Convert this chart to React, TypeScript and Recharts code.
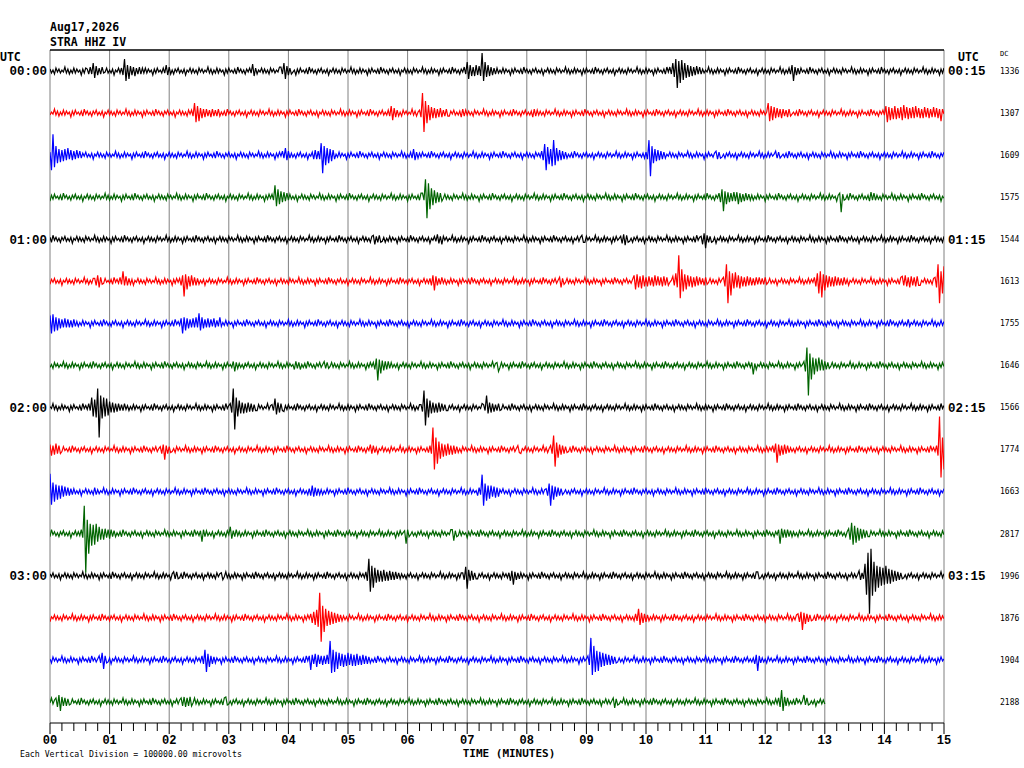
import { LineChart, Line, XAxis, YAxis, ReferenceLine } from 'recharts'

// helicorder: 16 rows of 15 minutes, deflections in pixels of the original plot
const minuteLabels = ['00', '01', '02', '03', '04', '05', '06', '07', '08', '09', '10', '11', '12', '13', '14', '15']
const rowStartLabels = ['00:00', '01:00', '02:00', '03:00']
const rowEndLabels = ['00:15', '01:15', '02:15', '03:15']
const dcValues = ['1336', '1307', '1609', '1575', '1544', '1613', '1755', '1646', '1566', '1774', '1663', '2817', '1996', '1876', '1904', '2188']
const traceEnds = [15, 15, 15, 15, 15, 15, 15, 15, 15, 15, 15, 15, 15, 15, 15, 13]

// background noise band, read from a quiet stretch
const noiseSamples = [
  2, -2, 1, -3, 3, -1, 2, -2, 1, -1, 4, -2, 2, -3, 1, -2, 3, -2, 2, -1, 1, -4, 2, -2,
  3, -1, 1, -2, 2, -3, 4, -1, 2, -2, 1, -3, 2, -1, 3, -2, 1, -2, 2, -4, 1, -1, 3, -2,
]

// [start minute, deflections every 0.025 min]
const events00: [number, string][] = [
  [0.62, '2 -3 4 -3 8 -7 5 -4 3 -3 4 -2'],
  [1.2, '3 -4 12 -10 6 -8 5 -4 4 -5 3 -3 4 -3 3 -2'],
  [1.9, '3 -2 6 -4 4 -3'],
  [3.35, '3 -2 7 -5 3 -3'],
  [3.87, '4 -3 8 -8 5 -4 3 -3'],
  [6.95, '4 -3 9 -8 6 -5 4 -5 6 -4 5 -5 18 -10 9 -6 6 -5 4 -4 3 -3 3 -2'],
  [10.4, '4 -3 8 -6 12 -17 10 -12 11 -9 8 -7 6 -6 5 -5 4 -4 5 -3 4 -3'],
  [12.4, '3 -3 6 -10 4 -4 3 -3'],
]
const events01: [number, string][] = [
  [2.38, '3 -3 10 -9 7 -8 5 -5 4 -4 4 -3 3 -4 4 -3 3 -3 4 -3'],
  [5.68, '3 -3 7 -7 5 -4 3 -3'],
  [6.2, '3 -4 20 -19 12 -10 8 -7 6 -5 5 -5 4 -4 5 -4 3 -3 4 -3'],
  [6.93, '4 -3'],
  [8.13, '4 -3'],
  [12.05, '10 -8 7 -7 6 -5 5 -4 4 -5 4 -3 3 -4 4 -3'],
  [14.03, '7 -9 6 -7 5 -6 7 -6 5 -5 6 -7 8 -5 6 -6 5 -5 6 -5 7 -4 5 -5 4 -5 6 -4 5 -5 4 -4 6 -4 5 -5 4 -8'],
]
const events02: [number, string][] = [
  [0.0, '3 -15 21 -12 9 -8 6 -7 5 -6 6 -5 7 -4 5 -5 4 -4 5 -3 4 -3'],
  [3.9, '4 -3 7 -5 4 -3'],
  [4.4, '3 -4 5 -4 4 -4 12 -18 9 -10 7 -8 6 -6 5 -4'],
  [6.05, '3 -3 6 -5 3 -3'],
  [8.26, '4 -5 11 -15 8 -9 6 -11 15 -10 7 -6 5 -5 4 -4 3 -3'],
  [10.0, '3 -4 15 -21 9 -8 6 -6 5 -5 4 -4 3 -3'],
  [11.17, '4 -4 3 -3'],
  [12.17, '4 -3 3 -3'],
]
const events03: [number, string][] = [
  [3.72, '3 -3 12 -9 8 -7 6 -5 5 -4 4 -3'],
  [6.25, '4 -3 18 -21 14 -12 9 -8 7 -6 5 -5 4 -4'],
  [11.22, '4 -5 8 -14 6 -7 5 -5 4 -4 5 -4 5 -7 4 -5 3 -4 4 -3 3 -3'],
  [13.25, '4 -15 3 -3'],
  [13.77, '5 -3 4 -3'],
]
const events04: [number, string][] = [
  [5.43, '4 -5 3 -3 4 -3'],
  [6.5, '5 -4 3 -5'],
  [8.92, '4 -3'],
  [9.58, '3 -4 5 -6 4 -3'],
  [10.92, '3 -5 6 -9 4 -3 3 -3'],
]
const events05: [number, string][] = [
  [0.74, '3 -4 6 -6 4 -3'],
  [1.17, '4 -3 10 -4 5 -4 3 -3'],
  [2.17, '3 -4 6 -15 7 -8 5 -5 6 -4 4 -4 3 -3'],
  [6.38, '3 -4 6 -9 5 -4 3 -3'],
  [8.55, '4 -6 3 -3'],
  [9.8, '6 -8 7 -6 5 -7 6 -5 4 -5 5 -4 4 -5 6 -4 5 -4 4 -5 5 -4 4 -4'],
  [10.45, '5 -4 8 -6 26 -17 12 -10 7 -8 6 -5 5 -6 4 -5 5 -4 4 -3 3 -4 4 -3'],
  [11.3, '4 -5 17 -22 10 -14 8 -7 9 -6 6 -7 5 -5 4 -5 5 -4 4 -4 3 -4 4 -3 4 -3 3 -3 4 -3'],
  [12.82, '4 -5 8 -12 10 -16 7 -9 6 -6 5 -5 4 -5 5 -4 4 -4 3 -4 4 -3'],
  [14.3, '5 -4 6 -5 4 -6 5 -4 4 -5 5 -4'],
  [14.85, '4 -6 17 -22 10 -12 15 -8'],
]
const events06: [number, string][] = [
  [0.0, '8 -10 9 -8 6 -7 5 -5 4 -4 5 -4 4 -4 3 -4 4 -3'],
  [2.2, '5 -10 6 -7 5 -5 4 -4 5 -4 6 -4 10 -7 6 -5 4 -4 5 -4 4 -3 5 -4 3 -3 6 -3'],
  [14.4, '4 -3'],
]
const events07: [number, string][] = [
  [3.07, '4 -6 3 -3'],
  [4.12, '4 -3 3 -4'],
  [4.6, '4 -3 3 -3'],
  [5.42, '3 -4 7 -15 6 -8 5 -5 4 -4 4 -3'],
  [7.49, '3 -6'],
  [11.77, '3 -9'],
  [12.66, '4 -6 18 -30 12 -14 8 -9 7 -6 8 -5 6 -5 4 -4 3 -3'],
]
const events08: [number, string][] = [
  [0.66, '4 -3 10 -9 8 -10 19 -30 12 -11 10 -9 9 -8 6 -5 5 -5 4 -4 4 -3 3 -3'],
  [3.03, '4 -5 19 -22 10 -9 7 -6 5 -6 4 -5 5 -4 4 -4 3 -3'],
  [3.73, '3 -3 9 -7 5 -5 4 -3'],
  [6.22, '3 -4 17 -18 9 -10 7 -6 5 -5 4 -5 5 -4 4 -3 3 -3'],
  [7.28, '3 -3 12 -6 5 -5 4 -4 3 -3 4 -3'],
]
const events09: [number, string][] = [
  [0.0, '5 -6 4 -5 6 -4 4 -4'],
  [1.86, '3 -4 5 -10 4 -4 3 -3'],
  [5.38, '5 -4 4 -3'],
  [6.38, '4 -4 22 -20 12 -14 8 -9 6 -7 5 -6 6 -5 4 -5 4 -4 3 -3'],
  [7.85, '4 -3'],
  [8.4, '4 -4 14 -17 7 -8 5 -5 4 -4 3 -3'],
  [12.12, '4 -3 6 -13 5 -6 4 -5 5 -4 4 -3'],
  [14.88, '4 -6 33 -28 12 -20'],
]
const events10: [number, string][] = [
  [0.0, '18 -13 9 -10 7 -8 6 -7 6 -5 5 -4 4 -4 3 -3'],
  [0.75, '4 -3'],
  [4.35, '3 -4 6 -5 4 -4 3 -3'],
  [7.2, '4 -3 17 -14 8 -9 6 -7 6 -5 5 -6 4 -5'],
  [8.32, '3 -4 8 -14 6 -8 5 -5 4 -4 3 -3'],
]
const events11: [number, string][] = [
  [0.53, '4 -4 28 -39 14 -20 10 -12 9 -11 10 -8 7 -6 5 -6 5 -4 4 -5 4 -3 3 -3'],
  [2.53, '3 -8 4 -3'],
  [3.03, '7 -5 3 -3'],
  [5.94, '3 -10 4 -3'],
  [6.76, '4 -7 3 -3'],
  [12.23, '4 -10 5 -4 4 -4 4 -3 3 -3'],
  [13.4, '5 -6 11 -11 8 -9 6 -7 5 -5 4 -4 3 -3'],
]
const events12: [number, string][] = [
  [2.08, '4 -3 4 -3'],
  [2.88, '3 -4'],
  [5.3, '4 -5 17 -16 10 -12 8 -7 6 -6 5 -6 6 -5 4 -5 5 -4 4 -4 4 -3 3 -3'],
  [6.92, '3 -4 9 -13 6 -5 5 -4 3 -3'],
  [7.7, '3 -5 5 -9 4 -4 3 -3'],
  [11.88, '4 -3'],
  [13.58, '5 -4 3 -3 12 -19 23 -38 27 -20 14 -16 10 -12 9 -10 8 -9 10 -8 7 -8 6 -6 5 -5 4 -4 3 -3'],
]
const events13: [number, string][] = [
  [4.37, '4 -5 6 -7 8 -9 25 -24 12 -14 9 -8 7 -7 6 -6 5 -5 4 -4 3 -3'],
  [9.83, '4 -3 9 -7 5 -5 4 -4 3 -3'],
  [12.54, '4 -4 6 -12 5 -6 4 -4 3 -3'],
]
const events14: [number, string][] = [
  [0.83, '4 -3 7 -9 4 -3'],
  [2.55, '4 -4 10 -12 6 -7 4 -4 3 -3'],
  [4.35, '4 -10 5 -4 6 -7 5 -4 4 -5 4 -4 5 -4 19 -13 10 -12 8 -9 7 -6 6 -7 5 -6 7 -5 6 -6 5 -6 6 -5 4 -5 5 -4 4 -4 3 -3'],
  [9.02, '4 -5 22 -15 14 -12 9 -11 8 -7 7 -6 6 -5 5 -5 4 -4 3 -3'],
  [11.85, '5 -11 4 -3'],
]
const events15: [number, string][] = [
  [0.1, '4 -5 7 -9 5 -4 4 -4 3 -3'],
  [2.2, '4 -4 5 -5 4 -4 5 -4'],
  [2.96, '5 -3'],
  [9.45, '4 -6 3 -3'],
  [12.22, '4 -5 12 -9 5 -4 4 -3'],
  [12.66, '7 -3 4 -3'],
]

const traceEvents = [
  events00, events01, events02, events03, events04, events05, events06, events07,
  events08, events09, events10, events11, events12, events13, events14, events15,
]

const rowColors = ['#000000', '#ff0000', '#0000ff', '#006400']

const W = 1024
const H = 768
const TOP = 50
const BOTTOM = 723
const LEFT = 50
const RIGHT = 944
const ROW_PX = (BOTTOM - TOP) / 16
const STEP = 0.025

function buildTrace(row: number) {
  const base = 15.5 - row
  const n = Math.round(traceEnds[row] / STEP)
  const px: number[] = []
  for (let k = 0; k <= n; k++) px.push(noiseSamples[(k + row * 7) % noiseSamples.length])
  for (const [start, seq] of traceEvents[row]) {
    const k0 = Math.round(start / STEP)
    seq.split(' ').map(Number).forEach((v, j) => {
      if (k0 + j <= n) px[k0 + j] = v
    })
  }
  return px.map((v, k) => ({ x: k * STEP, y: base + v / ROW_PX }))
}

const traces = traceEnds.map((_, i) => buildTrace(i))
const rowTicks = traceEnds.map((_, i) => 15.5 - i)
const xTicks = Array.from({ length: 76 }, (_, i) => i / 5)

const mono = '"DejaVu Sans Mono", monospace'
const serifMono = '"Liberation Mono", monospace'

function RowTick(props: any) {
  const { y, payload } = props
  const row = Math.round(15.5 - payload.value)
  const labelled = row % 4 === 0
  return (
    <g>
      {labelled && (
        <text x={47} y={y} dy="0.35em" textAnchor="end" fontFamily={serifMono} fontWeight="bold" fontSize={12.5} fill="#000">
          {rowStartLabels[row / 4]}
        </text>
      )}
      {labelled && (
        <text x={948} y={y} dy="0.35em" textAnchor="start" fontFamily={serifMono} fontWeight="bold" fontSize={12.5} fill="#000">
          {rowEndLabels[row / 4]}
        </text>
      )}
      <text x={1000} y={y} dy="0.35em" textAnchor="start" fontFamily={mono} fontSize={8} fill="#000">
        {dcValues[row]}
      </text>
    </g>
  )
}

function MinuteTick(props: any) {
  const { x, payload } = props
  const v = payload.value
  const major = Math.abs(v - Math.round(v)) < 1e-6
  return (
    <g>
      <line x1={x} x2={x} y1={BOTTOM} y2={major ? BOTTOM + 11 : BOTTOM + 8} stroke="#000" strokeWidth={1} />
      {major && (
        <text x={x} y={BOTTOM + 21} textAnchor="middle" fontFamily={serifMono} fontWeight="bold" fontSize={12} fill="#000">
          {minuteLabels[Math.round(v)]}
        </text>
      )}
    </g>
  )
}

export default function App() {
  return (
    <div style={{ position: 'absolute', left: 0, top: 0, width: W, height: H, background: '#fff' }}>
      <LineChart width={W} height={H} margin={{ top: TOP, right: W - RIGHT, bottom: 0, left: 0 }}>
        <XAxis
          dataKey="x"
          type="number"
          domain={[0, 15]}
          ticks={xTicks}
          interval={0}
          tick={<MinuteTick />}
          tickLine={false}
          axisLine={{ stroke: '#000' }}
          height={H - BOTTOM}
          allowDataOverflow
        />
        <YAxis
          yAxisId="left"
          type="number"
          domain={[0, 16]}
          ticks={rowTicks}
          interval={0}
          tick={<RowTick />}
          tickLine={false}
          axisLine={false}
          width={LEFT}
          allowDataOverflow
        />
        {minuteLabels.map((m, i) => (
          <ReferenceLine key={m} yAxisId="left" x={i} stroke="#808080" strokeWidth={1} ifOverflow="extendDomain" />
        ))}
        <ReferenceLine yAxisId="left" y={16} stroke="#000" strokeWidth={1.5} />
        {traces.map((d, i) => (
          <Line
            key={i}
            yAxisId="left"
            data={d}
            dataKey="y"
            type="linear"
            stroke={rowColors[i % 4]}
            strokeWidth={1.2}
            dot={false}
            isAnimationActive={false}
          />
        ))}
      </LineChart>
      <svg width={W} height={H} style={{ position: 'absolute', left: 0, top: 0, pointerEvents: 'none' }}>
        <text x={50} y={31} fontFamily={mono} fontWeight="bold" fontSize={11.5} fill="#000">Aug17,2026</text>
        <text x={50} y={46} fontFamily={mono} fontWeight="bold" fontSize={11.5} fill="#000">STRA HHZ IV</text>
        <text x={0} y={61} fontFamily={mono} fontWeight="bold" fontSize={11.5} fill="#000">UTC</text>
        <text x={958} y={61} fontFamily={mono} fontWeight="bold" fontSize={11.5} fill="#000">UTC</text>
        <text x={1000} y={56} fontFamily={mono} fontSize={7} fill="#000">DC</text>
        <text x={509} y={757} textAnchor="middle" fontFamily={mono} fontWeight="bold" fontSize={11} fill="#000">TIME (MINUTES)</text>
        <text x={20} y={757} fontFamily={mono} fontSize={8.2} fill="#000">Each Vertical Division = 100000.00 microvolts</text>
      </svg>
    </div>
  )
}
